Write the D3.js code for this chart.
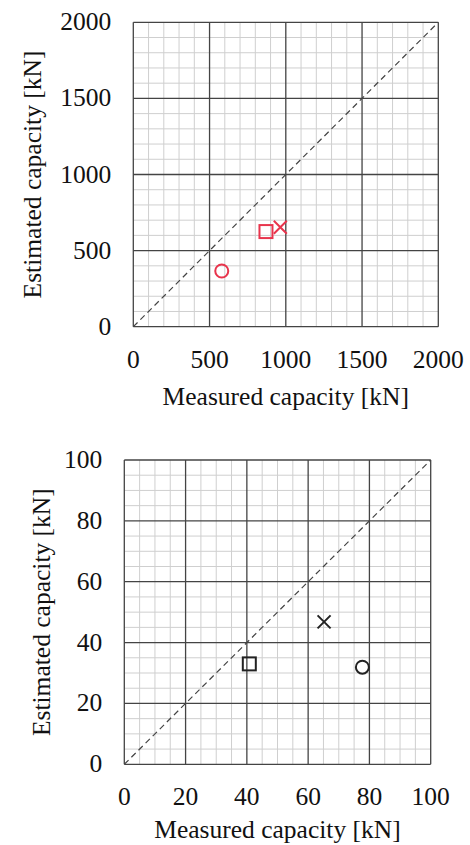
<!DOCTYPE html>
<html><head><meta charset="utf-8">
<script src="https://cdn.jsdelivr.net/npm/d3@7"></script>
<style>html,body{margin:0;padding:0;background:#fff;}svg{display:block;}</style>
</head><body>
<svg id="c" width="470" height="845"></svg>
<script>
// Top chart (kN, red markers)
const topTicks = [0, 500, 1000, 1500, 2000];
const topMinorStep = 100;
const topSeries = ["circle", "square", "cross"];
const topMeasured = [580, 870, 964];
const topEstimated = [366, 625, 653];

// Bottom chart (kN, black markers)
const botTicks = [0, 20, 40, 60, 80, 100];
const botMinorStep = 5;
const botSeries = ["circle", "square", "cross"];
const botMeasured = [77.7, 40.8, 65.2];
const botEstimated = [31.9, 33.0, 46.8];

const xTitle = "Measured capacity [kN]";
const yTitle = "Estimated capacity [kN]";

const svg = d3.select("#c");
const FONT = "'Times New Roman','Liberation Serif',serif";

function drawChart(cfg) {
  const {left, right, top, bottom, ticks, minorStep, series, xs, ys, color, yTitleX, xTitleDy} = cfg;
  const max = ticks[ticks.length - 1];
  const x = d3.scaleLinear().domain([0, max]).range([left, right]);
  const y = d3.scaleLinear().domain([0, max]).range([bottom, top]);
  const g = svg.append("g");
  const minor = d3.range(0, max + minorStep / 2, minorStep).filter(v => !ticks.includes(v));
  g.selectAll(null).data(minor).enter().append("line")
    .attr("x1", d => x(d)).attr("x2", d => x(d)).attr("y1", top).attr("y2", bottom)
    .attr("stroke", "#cfcfcf").attr("stroke-width", 1);
  g.selectAll(null).data(minor).enter().append("line")
    .attr("y1", d => y(d)).attr("y2", d => y(d)).attr("x1", left).attr("x2", right)
    .attr("stroke", "#cfcfcf").attr("stroke-width", 1);
  g.selectAll(null).data(ticks).enter().append("line")
    .attr("x1", d => x(d)).attr("x2", d => x(d)).attr("y1", top).attr("y2", bottom)
    .attr("stroke", "#444").attr("stroke-width", 1.3);
  g.selectAll(null).data(ticks).enter().append("line")
    .attr("y1", d => y(d)).attr("y2", d => y(d)).attr("x1", left).attr("x2", right)
    .attr("stroke", "#444").attr("stroke-width", 1.3);
  g.append("line").attr("x1", x(0)).attr("y1", y(0)).attr("x2", x(max)).attr("y2", y(max))
    .attr("stroke", "#444").attr("stroke-width", 1.2).attr("stroke-dasharray", "6,4");
  g.selectAll(null).data(ticks).enter().append("text")
    .attr("x", d => x(d)).attr("y", bottom + 41).attr("text-anchor", "middle")
    .attr("font-family", FONT).attr("font-size", 25.5).attr("fill", "#111").text(d => d);
  g.selectAll(null).data(ticks).enter().append("text")
    .attr("x", left - 22).attr("y", d => y(d) + 8).attr("text-anchor", "end")
    .attr("font-family", FONT).attr("font-size", 25.5).attr("fill", "#111").text(d => d);
  g.append("text").attr("x", (left + right) / 2).attr("y", bottom + xTitleDy).attr("text-anchor", "middle")
    .attr("font-family", FONT).attr("font-size", 25.5).attr("fill", "#111").text(xTitle);
  g.append("text").attr("transform", `translate(${yTitleX},${(top + bottom) / 2}) rotate(-90)`)
    .attr("text-anchor", "middle").attr("font-family", FONT).attr("font-size", 25.5).attr("fill", "#111").text(yTitle);
  const s = 6.5;
  series.forEach((type, i) => {
    const cx = x(xs[i]), cy = y(ys[i]);
    if (type === "circle") {
      g.append("circle").attr("cx", cx).attr("cy", cy).attr("r", s).attr("fill", "none")
        .attr("stroke", color).attr("stroke-width", 2);
    } else if (type === "square") {
      g.append("rect").attr("x", cx - s).attr("y", cy - s).attr("width", 2 * s).attr("height", 2 * s)
        .attr("fill", "none").attr("stroke", color).attr("stroke-width", 2);
    } else {
      g.append("path").attr("d", `M${cx - s},${cy - s}L${cx + s},${cy + s}M${cx - s},${cy + s}L${cx + s},${cy - s}`)
        .attr("stroke", color).attr("stroke-width", 2).attr("fill", "none");
    }
  });
}

drawChart({left: 133.3, right: 438.3, top: 22.3, bottom: 326.7, ticks: topTicks, minorStep: topMinorStep,
  series: topSeries, xs: topMeasured, ys: topEstimated, color: "#e8344c", yTitleX: 41, xTitleDy: 78});
drawChart({left: 124.3, right: 430.7, top: 460, bottom: 764.3, ticks: botTicks, minorStep: botMinorStep,
  series: botSeries, xs: botMeasured, ys: botEstimated, color: "#222", yTitleX: 50, xTitleDy: 74});
</script>
</body></html>
